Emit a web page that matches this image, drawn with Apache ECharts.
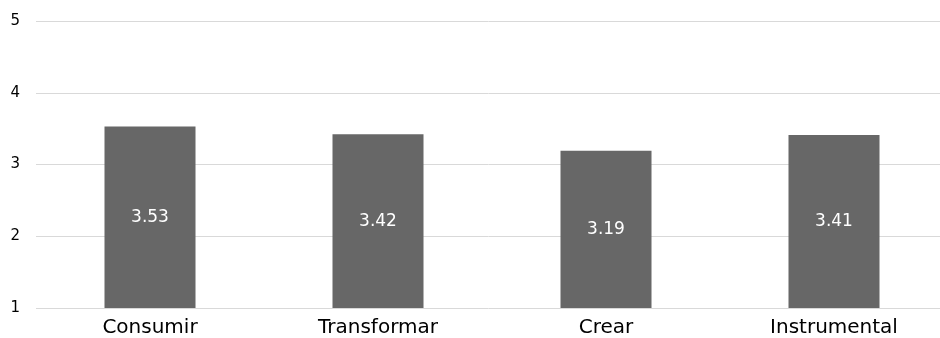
<!DOCTYPE html>
<html>
<head>
<meta charset="utf-8">
<script src="https://cdn.jsdelivr.net/npm/echarts@6/dist/echarts.min.js"></script>
<style>
    html, body { margin: 0; padding: 0; background: #fff; }
    #main { width: 940px; height: 338px; }
</style>
</head>
<body>
<div id="main"></div>
<script>
const categories = ['Consumir', 'Transformar', 'Crear', 'Instrumental'];
const values = [3.53, 3.42, 3.19, 3.41];
const yTicks = [1, 2, 3, 4, 5];

let myChart = echarts.init(document.getElementById('main'));

let option = {
    animation: false,
    textStyle: { fontFamily: 'DejaVu Sans, Liberation Sans, Arial, sans-serif' },
    grid: {
        left: 36,
        top: 21,
        width: 912,
        bottom: 30,
        containLabel: false,
        outerBoundsMode: 'none'
    },
    xAxis: {
        type: 'category',
        data: categories,
        axisLine: { show: false },
        axisTick: { show: false },
        axisLabel: {
            color: '#000',
            fontSize: 20,
            margin: 10
        }
    },
    yAxis: {
        type: 'value',
        min: yTicks[0],
        max: yTicks[yTicks.length - 1],
        interval: 1,
        axisLine: { show: false },
        axisTick: { show: false },
        axisLabel: {
            color: '#000',
            fontSize: 15,
            margin: 16
        },
        splitLine: {
            lineStyle: { color: '#d9d9d9', width: 1 }
        }
    },
    series: [{
        type: 'bar',
        data: values,
        barWidth: 91,
        itemStyle: { color: '#676767' },
        label: {
            show: true,
            position: 'inside',
            color: '#fff',
            fontSize: 17,
            formatter: function (p) { return p.value.toFixed(2); }
        }
    }]
};

myChart.setOption(option);
</script>
</body>
</html>
